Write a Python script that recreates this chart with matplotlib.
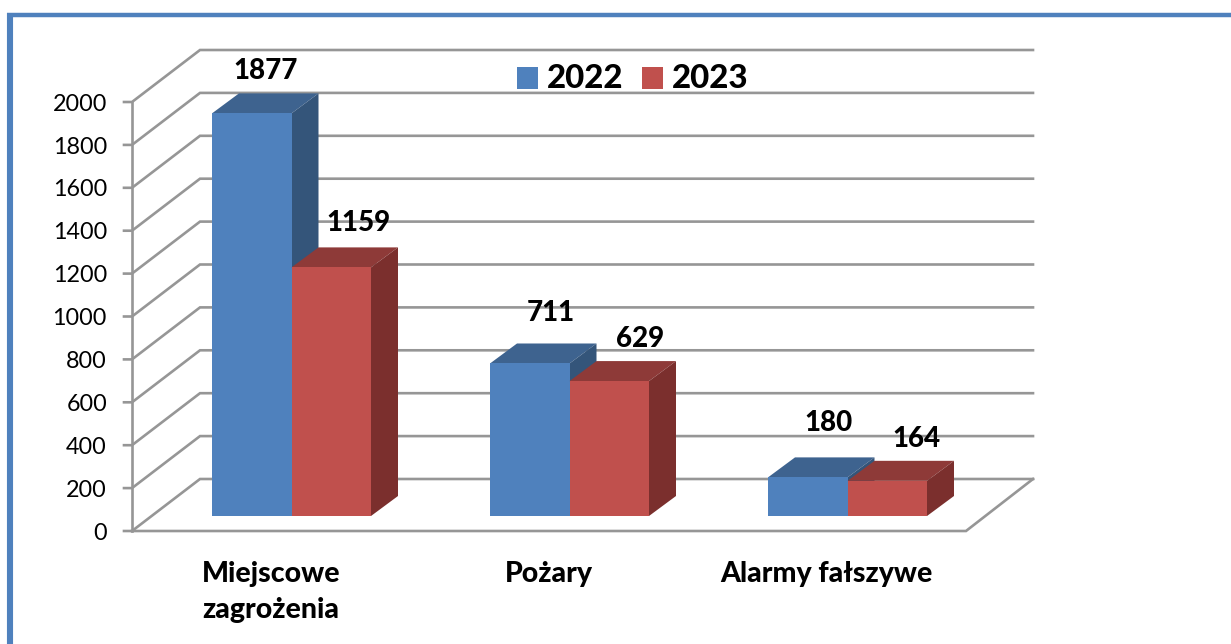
import matplotlib
matplotlib.use("Agg")
import matplotlib.pyplot as plt
from matplotlib.patches import Polygon, Rectangle

categories = ["Miejscowe\nzagrożenia", "Pożary", "Alarmy fałszywe"]
series_names = ["2022", "2023"]
values_2022 = [1877, 711, 180]
values_2023 = [1159, 629, 164]
y_ticks = list(range(0, 2001, 200))

plt.rcParams["font.family"] = ["Lato", "DejaVu Sans"]
W, H = 1231, 644
fig = plt.figure(figsize=(W / 100, H / 100), dpi=100, facecolor="white")
ax = fig.add_axes([0, 0, 1, 1])

# Value scale: 0 sits at pixel row 531, 2000 at row 102
ROW0 = 531
PX_PER_UNIT = (ROW0 - 102) / 2000
ax.set_xlim(0, W)
ax.set_ylim(-(H - ROW0) / PX_PER_UNIT, ROW0 / PX_PER_UNIT)
ax.axis("off")


def v_offset(px):
    return px / PX_PER_UNIT


def row(r):
    """Value that lands on pixel row r."""
    return v_offset(ROW0 - r)


def pr(x, value, dx=0, dy=0):
    """Oblique projection: screen x, data value, depth shift in pixels."""
    return (x + dx, value + v_offset(dy))


GRID = "#969696"
LW = 1.9
WALL_X0, FLOOR_X1, BACK_X1 = 132, 966, 1033
DEPTH_X, DEPTH_Y = 68, 52

# Frame
FRAME = "#4f81bd"
ax.plot([10, 10], [row(H + 5), row(13)], color=FRAME, lw=4.4, solid_capstyle="butt", zorder=1)
ax.plot([7, W], [row(15), row(15)], color=FRAME, lw=3.2, solid_capstyle="butt", zorder=1)

# Walls and gridlines
for t in y_ticks:
    ax.plot(*zip(pr(WALL_X0 - 8, t), pr(WALL_X0, t), pr(WALL_X0, t, DEPTH_X, DEPTH_Y),
                 pr(BACK_X1, t, 0, DEPTH_Y)),
            color=GRID, lw=LW, zorder=2, solid_joinstyle="miter")
    ax.text(107, t - v_offset(2.2), str(t), ha="right", va="center", fontsize=16.8,
            color="black", zorder=6)
ax.plot(*zip(pr(WALL_X0, 0), pr(WALL_X0, 2000)), color=GRID, lw=LW, zorder=2)
ax.plot(*zip(pr(WALL_X0, 0), pr(FLOOR_X1, 0), pr(BACK_X1, 0, 0, DEPTH_Y)),
        color=GRID, lw=LW, zorder=2, solid_joinstyle="miter")

# Bars
BAR_W = 79.5
GROUP_X0, GROUP_STEP = 212, 278
BASE_DY = 15
BAR_DX, BAR_DY = 27, 20
COLORS = {
    "2022": ("#4f81bd", "#3e638f", "#34557a"),
    "2023": ("#c0504d", "#8e3a38", "#7b2f2d"),
}


def bar3d(x0, value, name, z):
    front, top, side = COLORS[name]
    x1 = x0 + BAR_W
    b = BASE_DY
    ax.add_patch(Polygon([pr(x0, 0, 0, b), pr(x1, 0, 0, b),
                          pr(x1, value, 0, b), pr(x0, value, 0, b)],
                         fc=front, ec="none", zorder=z + 1))
    ax.add_patch(Polygon([pr(x0, value, 0, b), pr(x1, value, 0, b),
                          pr(x1, value, BAR_DX, b + BAR_DY), pr(x0, value, BAR_DX, b + BAR_DY)],
                         fc=top, ec="none", zorder=z))
    ax.add_patch(Polygon([pr(x1, 0, 0, b), pr(x1, 0, BAR_DX, b + BAR_DY),
                          pr(x1, value, BAR_DX, b + BAR_DY), pr(x1, value, 0, b)],
                         fc=side, ec="none", zorder=z))


label_dx = {"2022": [54, 61, 61], "2023": [67, 71, 69]}
label_dy = {"2022": [42, 50, 54], "2023": [44, 42, 42]}

for i in range(len(categories)):
    x0 = GROUP_X0 + i * GROUP_STEP
    bar3d(x0, values_2022[i], "2022", 3)
    bar3d(x0 + BAR_W, values_2023[i], "2023", 4)
    for name, vals, xs in (("2022", values_2022, x0), ("2023", values_2023, x0 + BAR_W)):
        ax.text(xs + label_dx[name][i], vals[i] + v_offset(BASE_DY + label_dy[name][i]),
                str(vals[i]), ha="center", va="center", fontsize=20, fontweight="black",
                color="black", zorder=7)

# Category labels
cat_x = [271, 549, 826]
for x, c in zip(cat_x, categories):
    r = 592 if "\n" in c else 574
    ax.text(x, row(r), c, ha="center", va="center", fontsize=20.5, fontweight="black",
            color="black", zorder=7, linespacing=1.45)

# Legend
for x_sq, x_txt, name in ((517, 547, "2022"), (642, 672, "2023")):
    ax.add_patch(Rectangle((x_sq, row(89)), 21, v_offset(22),
                           fc=COLORS[name][0], ec="none", zorder=6))
    ax.text(x_txt, row(79), name, ha="left", va="center", fontsize=23.8,
            fontweight="black", color="black", zorder=7)

fig.savefig("out.png", dpi=100, facecolor="white")
